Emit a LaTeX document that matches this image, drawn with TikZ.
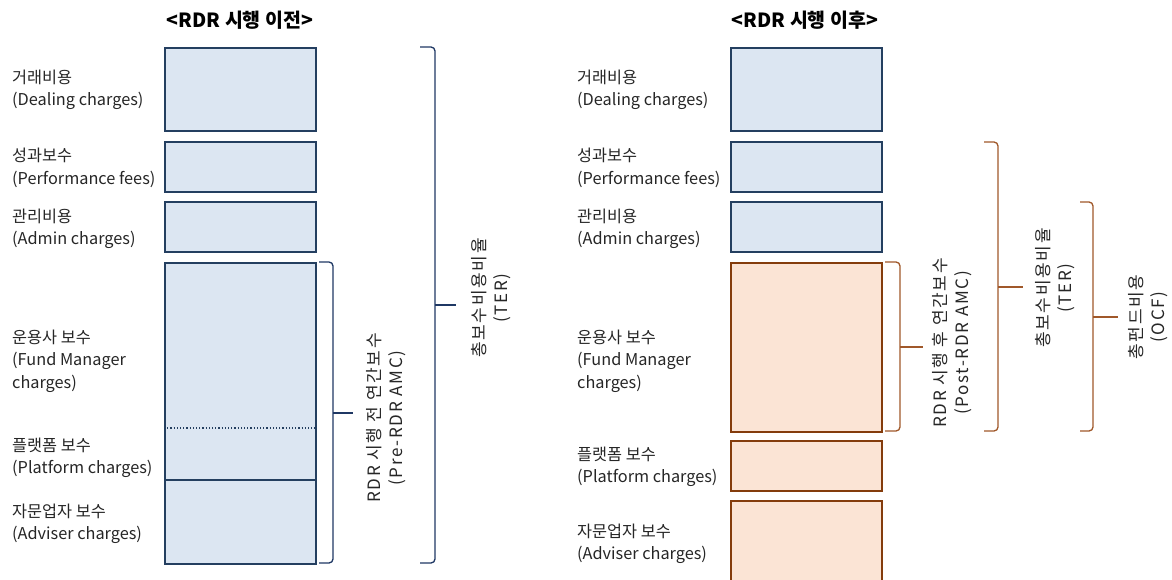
\documentclass[tikz,border=0pt]{standalone}
\usepackage{fontspec}
\setmainfont{Noto Sans CJK KR}
\definecolor{bfill}{HTML}{DCE6F2}
\definecolor{bline}{HTML}{243F60}
\definecolor{ofill}{HTML}{FBE4D5}
\definecolor{oline}{HTML}{843C0C}
\definecolor{bbrace}{HTML}{1F3864}
\definecolor{obrace}{HTML}{A0582A}
\definecolor{txt}{HTML}{262626}
\begin{document}
\begin{tikzpicture}[x=1pt,y=-1pt,
  bbox/.style={draw=bline,fill=bfill,line width=1.6pt,inner sep=0pt,anchor=north west},
  obox/.style={draw=oline,fill=ofill,line width=1.6pt,inner sep=0pt,anchor=north west},
  lab/.style={anchor=west,align=left,inner sep=0pt,text=txt,font=\fontsize{16.3}{22.5}\selectfont},
  ttl/.style={inner sep=0pt,text=black,font=\fontsize{19.5}{22}\selectfont\bfseries},
  vlab/.style={rotate=90,align=center,inner sep=0pt,text=txt,font=\fontsize{17}{21.5}\selectfont\addfontfeature{LetterSpace=10}},
  bbr/.style={draw=bbrace,line width=1.3pt,rounded corners=4pt},
  obr/.style={draw=obrace,line width=1.3pt,rounded corners=4pt}]
\useasboundingbox (0,0) rectangle (1172,580);
\fill[white] (0,0) rectangle (1172,580);

% ---------- left ----------
\node[ttl] (t1) at (240,20) {<RDR 시행 이전>};
\node[bbox,minimum width=151pt,minimum height=83pt] (l1) at (164,47) {};
\node[bbox,minimum width=151pt,minimum height=50pt] (l2) at (164,141) {};
\node[bbox,minimum width=151pt,minimum height=50pt] (l3) at (164,201) {};
\node[bbox,minimum width=151pt,minimum height=301pt] (l4) at (164,262) {};
\coordinate (dl) at (164,428); \coordinate (dr) at (315,428);
\coordinate (sl) at (164,480); \coordinate (sr) at (315,480);
\draw[bline,line width=1.2pt,dotted] (dl) -- (dr);
\draw[bline,line width=1.6pt] (sl) -- (sr);

\node[lab] (a1) at (12,90) {거래비용\\(Dealing charges)};
\node[lab] (a2) at (12,168) {성과보수\\(Performance fees)};
\node[lab] (a3) at (12,229) {관리비용\\(Admin charges)};
\node[lab] (a4) at (12,361) {운용사 보수\\(Fund Manager\\charges)};
\node[lab] (a5) at (12,458) {플랫폼 보수\\(Platform charges)};
\node[lab] (a6) at (12,524) {자문업자 보수\\(Adviser charges)};

% small brace
\coordinate (pb1) at (319,262); \coordinate (pb2) at (333,262);
\coordinate (pb3) at (333,563); \coordinate (pb4) at (319,563);
\coordinate (pm) at (333,413); \coordinate (pt) at (353,413);
\draw[bbr] (pb1) -- (pb2) -- (pb3) -- (pb4);
\draw[bbrace,line width=1.3pt] (pm) -- (pt);
\node[vlab] (v1) at (386,418) {RDR 시행 전 연간보수\\(Pre-RDR AMC)};

% big brace
\coordinate (tb1) at (420,47); \coordinate (tb2) at (435,47);
\coordinate (tb3) at (435,563); \coordinate (tb4) at (420,563);
\coordinate (tm) at (435,305); \coordinate (tt) at (456,305);
\draw[bbr] (tb1) -- (tb2) -- (tb3) -- (tb4);
\draw[bbrace,line width=1.3pt] (tm) -- (tt);
\node[vlab] (v2) at (491,298) {총보수비용비율\\(TER)};

% ---------- right ----------
\node[ttl] (t2) at (805,20) {<RDR 시행 이후>};
\node[bbox,minimum width=151pt,minimum height=83pt] (r1) at (730,47) {};
\node[bbox,minimum width=151pt,minimum height=50pt] (r2) at (730,141) {};
\node[bbox,minimum width=151pt,minimum height=50pt] (r3) at (730,201) {};
\node[obox,minimum width=151pt,minimum height=169pt] (r4) at (730,262) {};
\node[obox,minimum width=151pt,minimum height=50pt] (r5) at (730,440) {};
\node[obox,minimum width=151pt,minimum height=90pt] (r6) at (730,500) {};

\node[lab] (b1) at (577,90) {거래비용\\(Dealing charges)};
\node[lab] (b2) at (577,168) {성과보수\\(Performance fees)};
\node[lab] (b3) at (577,229) {관리비용\\(Admin charges)};
\node[lab] (b4) at (577,361) {운용사 보수\\(Fund Manager\\charges)};
\node[lab] (b5) at (577,467) {플랫폼 보수\\(Platform charges)};
\node[lab] (b6) at (577,544) {자문업자 보수\\(Adviser charges)};

% post-RDR brace
\coordinate (qb1) at (885,262); \coordinate (qb2) at (900,262);
\coordinate (qb3) at (900,431); \coordinate (qb4) at (885,431);
\coordinate (qm) at (900,347); \coordinate (qt) at (923,347);
\draw[obr] (qb1) -- (qb2) -- (qb3) -- (qb4);
\draw[obrace,line width=1.3pt] (qm) -- (qt);
\node[vlab] (w1) at (952,343) {RDR 시행 후 연간보수\\(Post-RDR AMC)};

% TER brace
\coordinate (rb1) at (984,142); \coordinate (rb2) at (998,142);
\coordinate (rb3) at (998,431); \coordinate (rb4) at (984,431);
\coordinate (rm) at (998,287); \coordinate (rt) at (1023,287);
\draw[obr] (rb1) -- (rb2) -- (rb3) -- (rb4);
\draw[obrace,line width=1.3pt] (rm) -- (rt);
\node[vlab] (w2) at (1055,288) {총보수비용비율\\(TER)};

% OCF brace
\coordinate (ob1) at (1080,202); \coordinate (ob2) at (1093,202);
\coordinate (ob3) at (1093,431); \coordinate (ob4) at (1080,431);
\coordinate (om) at (1093,317); \coordinate (ot) at (1118,317);
\draw[obr] (ob1) -- (ob2) -- (ob3) -- (ob4);
\draw[obrace,line width=1.3pt] (om) -- (ot);
\node[vlab] (w3) at (1148,317) {총펀드비용\\(OCF)};
\end{tikzpicture}
\end{document}
